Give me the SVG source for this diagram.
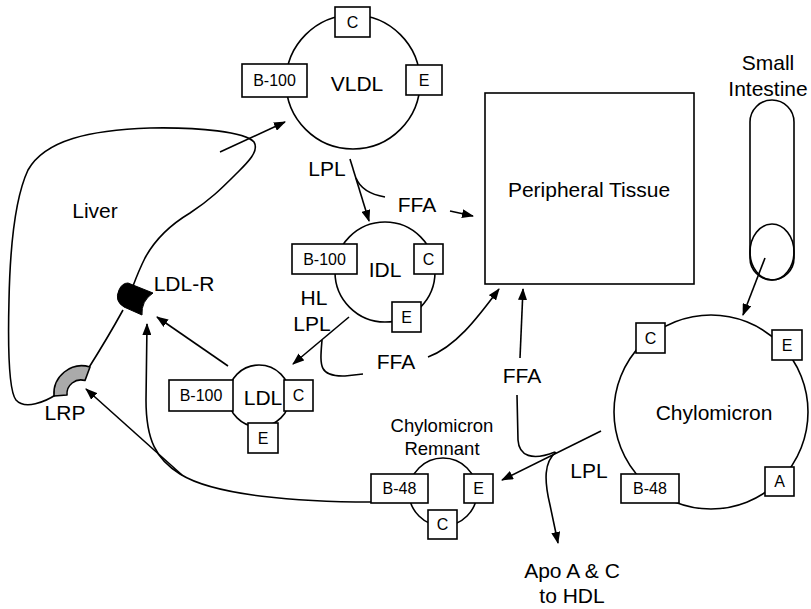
<svg xmlns="http://www.w3.org/2000/svg" width="811" height="609" viewBox="0 0 811 609">
<style>
text{font-family:"Liberation Sans",Arial,Helvetica,sans-serif;fill:#000;text-anchor:middle}
.big{font-size:21px}
.mid{font-size:18.5px}
.sm{font-size:16px}
.ln{fill:none;stroke:#000;stroke-width:1.6}
.box{fill:#fff;stroke:#000;stroke-width:1.6}
.arr{fill:none;stroke:#000;stroke-width:1.6;marker-end:url(#ah)}
</style>
<defs>
<marker id="ah" markerUnits="userSpaceOnUse" markerWidth="12" markerHeight="9" refX="11" refY="4.5" orient="auto">
<path d="M0,0 L12,4.5 L0,9 z" fill="#000"/>
</marker>
</defs>
<rect width="811" height="609" fill="#fff"/>

<g id="liver">
<path class="ln" d="M 57 394 C 45 402, 25 410, 16 400 C 8 390, 8 340, 9 300 C 10 250, 14 200, 28 170 C 45 140, 90 130, 150 128 C 200 127, 245 132, 254 142 C 260 152, 245 165, 235 175 C 222 188, 210 200, 190 213 C 165 228, 152 245, 145 258 C 140 268, 136 278, 133 286 M 123 310 C 112 330, 100 350, 88 369"/>
<text class="big" x="95" y="218">Liver</text>
</g>
<g id="ldlr">
<path d="M 128 283 L 153 293 Q 141 301 142 315 L 124 307 Q 114 301 119 290 Q 122 283 128 283 Z" fill="#000" stroke="#000" stroke-width="1"/>
<text class="big" x="184" y="291">LDL-R</text>
</g>
<g id="lrp">
<path d="M 90 367 L 85 380.5 A 14 14 0 0 0 67 395 L 54 396 A 28 28 0 0 1 90 367 Z" fill="#aaa" stroke="#000" stroke-width="1.6" stroke-linejoin="round"/>
<text class="big" x="65" y="420">LRP</text>
</g>

<g id="vldl">
<circle class="ln" cx="353" cy="82" r="67"/>
<rect class="box" x="335" y="7" width="35" height="30"/>
<text class="sm" x="352.5" y="28">C</text>
<rect class="box" x="242" y="64" width="65" height="33"/>
<text class="sm" x="274.5" y="86">B-100</text>
<rect class="box" x="406" y="65" width="36" height="30"/>
<text class="sm" x="424" y="86">E</text>
<text class="big" x="357" y="91">VLDL</text>
</g>

<g id="idl">
<circle class="ln" cx="385" cy="272" r="50"/>
<rect class="box" x="292" y="244" width="65" height="30"/>
<text class="sm" x="324.5" y="265">B-100</text>
<rect class="box" x="414" y="244" width="29" height="30"/>
<text class="sm" x="428.5" y="265">C</text>
<rect class="box" x="392" y="302" width="29" height="30"/>
<text class="sm" x="406.5" y="323">E</text>
<text class="big" x="385" y="277">IDL</text>
</g>

<g id="ldl">
<circle class="ln" cx="259" cy="396" r="31"/>
<rect class="box" x="169" y="380" width="64" height="31"/>
<text class="sm" x="201" y="401">B-100</text>
<rect class="box" x="284" y="380" width="29" height="31"/>
<text class="sm" x="298.5" y="401">C</text>
<rect class="box" x="248" y="423" width="30" height="30"/>
<text class="sm" x="263" y="444">E</text>
<text class="big" x="263" y="405">LDL</text>
</g>

<g id="peripheral">
<rect class="box" x="485" y="93" width="209" height="191"/>
<text class="big" x="589" y="197">Peripheral Tissue</text>
</g>

<g id="intestine">
<rect class="box" x="750" y="100" width="44" height="180" rx="22" ry="22"/>
<ellipse class="ln" cx="772" cy="252" rx="22" ry="28"/>
<text class="big" x="768" y="70">Small</text>
<text class="big" x="768" y="96">Intestine</text>
</g>

<g id="chylomicron">
<circle class="ln" cx="711" cy="412" r="97"/>
<rect class="box" x="636" y="323" width="29" height="30"/>
<text class="sm" x="650.5" y="344">C</text>
<rect class="box" x="772" y="330" width="30" height="30"/>
<text class="sm" x="787" y="351">E</text>
<rect class="box" x="765" y="467" width="29" height="29"/>
<text class="sm" x="779.5" y="487">A</text>
<rect class="box" x="621" y="474" width="58" height="29"/>
<text class="sm" x="650" y="494">B-48</text>
<text class="big" x="714" y="420">Chylomicron</text>
</g>

<g id="remnant">
<circle class="ln" cx="443" cy="492" r="34"/>
<rect class="box" x="371" y="474" width="57" height="29"/>
<text class="sm" x="399.5" y="494">B-48</text>
<rect class="box" x="464" y="474" width="29" height="29"/>
<text class="sm" x="478.5" y="494">E</text>
<rect class="box" x="428" y="510" width="29" height="29"/>
<text class="sm" x="442.5" y="530">C</text>
<text class="mid" x="442" y="432">Chylomicron</text>
<text class="mid" x="442" y="455">Remnant</text>
</g>

<g id="connectors">
<path class="arr" d="M 220 152 L 285 122"/>
<path class="arr" d="M 350 159 L 369 221"/>
<path class="ln" d="M 356 178 Q 362 193 385 197"/>
<path class="arr" d="M 450 211 L 473 216"/>
<path class="arr" d="M 349 317 L 293 364"/>
<path class="ln" d="M 322 340 C 320 365, 318 377, 345 376 L 363 374"/>
<path class="arr" d="M 428 357 C 455 347, 476 320, 499 289"/>
<path class="arr" d="M 228 366 L 157 317"/>
<path class="arr" d="M 371 502 C 300 502, 215 496, 180 474 C 156 459, 146 440, 146 400 L 147 324"/>
<path class="arr" d="M 182 475 L 86 389"/>
<path class="arr" d="M 765 258 L 743 315"/>
<path class="arr" d="M 601 431 L 502 480"/>
<path class="arr" d="M 520 358 L 523 289"/>
<path class="ln" d="M 517 395 L 518 440 C 519 456, 532 461, 555 452"/>
<path class="arr" d="M 556 452 C 544 462, 544 480, 550 505 L 558 543"/>
<text class="big" x="327" y="176">LPL</text>
<text class="big" x="417" y="212">FFA</text>
<text class="big" x="314" y="305">HL</text>
<text class="big" x="312" y="331">LPL</text>
<text class="big" x="396" y="369">FFA</text>
<text class="big" x="522" y="383">FFA</text>
<text class="big" x="589" y="478">LPL</text>
<text class="big" x="572" y="578">Apo A &amp; C</text>
<text class="big" x="572" y="603">to HDL</text>
</g>
</svg>
